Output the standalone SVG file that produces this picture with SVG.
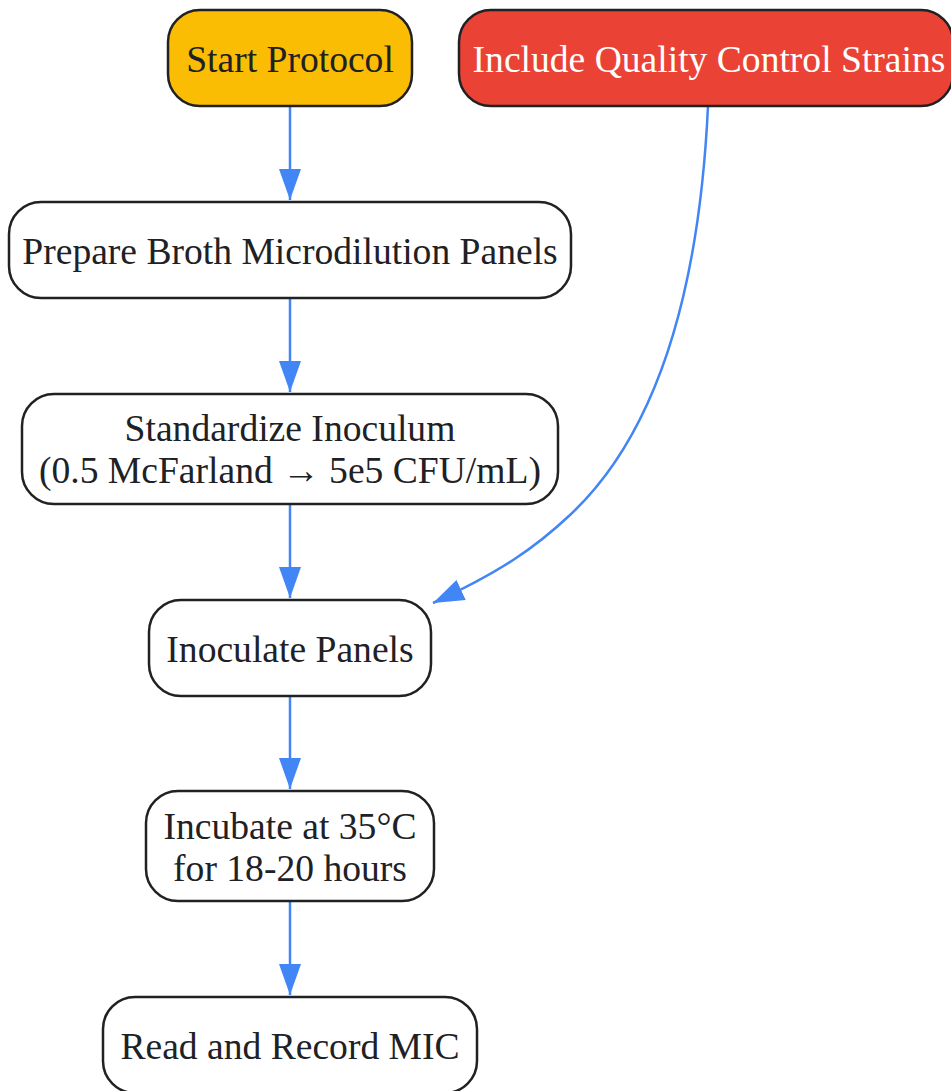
<svg xmlns="http://www.w3.org/2000/svg" width="951" height="1091" viewBox="0 0 951 1091">
<style>
.n rect{fill:#ffffff;stroke:#202124;stroke-width:2.5}
.n text{font-family:"Liberation Serif","Times New Roman",serif;font-size:37.6px;fill:#202124;text-anchor:middle}
.e{fill:none;stroke:#4285f4;stroke-width:2.5}
</style>
<defs>
<marker id="ah" markerUnits="userSpaceOnUse" markerWidth="32" markerHeight="24" refX="31" refY="11" orient="auto" viewBox="0 0 32 24">
<path d="M0,0 L31,11 L0,22 z" fill="#4285f4"/>
</marker>
</defs>
<g id="edges">
<path class="e" d="M290,106 L290,200" marker-end="url(#ah)"/>
<path class="e" d="M290,298 L290,392" marker-end="url(#ah)"/>
<path class="e" d="M290,504 L290,598" marker-end="url(#ah)"/>
<path class="e" d="M290,696 L290,789" marker-end="url(#ah)"/>
<path class="e" d="M290,901 L290,995" marker-end="url(#ah)"/>
<path class="e" d="M708,106 C698,320 645,445 570,515 C535,548 500,572 433,603" marker-end="url(#ah)"/>
</g>
<g id="start" class="n"><rect x="168" y="10" width="244" height="96" rx="32" style="fill:#fbbc04"/><text x="290" y="72">Start Protocol</text></g>
<g id="qc" class="n"><rect x="459" y="10" width="494" height="96" rx="32" style="fill:#ea4335"/><text x="709" y="72" style="fill:#ffffff">Include Quality Control Strains</text></g>
<g id="prepare" class="n"><rect x="9" y="202" width="562" height="96" rx="32"/><text x="290" y="264">Prepare Broth Microdilution Panels</text></g>
<g id="standardize" class="n"><rect x="22" y="394" width="536" height="110" rx="32"/><text x="290" y="441">Standardize Inoculum</text><text x="290" y="483">(0.5 McFarland → 5e5 CFU/mL)</text></g>
<g id="inoculate" class="n"><rect x="149" y="600" width="282" height="96" rx="32"/><text x="290" y="662">Inoculate Panels</text></g>
<g id="incubate" class="n"><rect x="146" y="791" width="288" height="110" rx="32"/><text x="290" y="839">Incubate at 35°C</text><text x="290" y="881">for 18-20 hours</text></g>
<g id="read" class="n"><rect x="103" y="997" width="374" height="96" rx="32"/><text x="290" y="1059">Read and Record MIC</text></g>
</svg>
